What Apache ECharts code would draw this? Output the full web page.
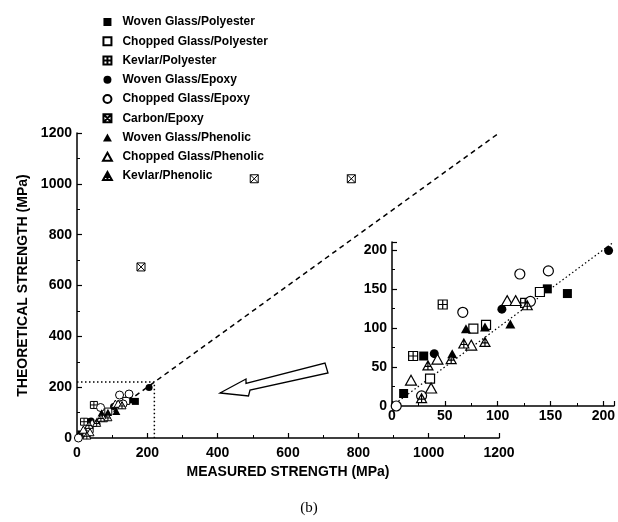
<!DOCTYPE html>
<html>
<head>
<meta charset="utf-8">
<script src="https://cdn.jsdelivr.net/npm/echarts@6/dist/echarts.min.js"></script>
<style>
html,body{margin:0;padding:0;background:#fff;}
#chart{width:618px;height:522px;}
</style>
</head>
<body>
<div id="chart"></div>
<script>
// ---- data (measured, theoretical) in MPa ----
const seriesNames = ['Woven Glass/Polyester','Chopped Glass/Polyester','Kevlar/Polyester','Woven Glass/Epoxy','Chopped Glass/Epoxy','Carbon/Epoxy','Woven Glass/Phenolic','Chopped Glass/Phenolic','Kevlar/Phenolic'];
const wovenGlassPolyester = [[11,16],[30,64],[147,150],[166,144]];
const choppedGlassPolyester = [[36,35],[77,99],[89,104],[140,146]];
const kevlarPolyester = [[20,64],[48,130],[126,132]];
const wovenGlassEpoxy = [[40,67],[104,124],[205,199]];
const choppedGlassEpoxy = [[4,0],[28,13],[67,120],[121,169],[148,173],[131,134]];
const carbonEpoxy = [[182,673],[504,1020],[780,1020]];
const wovenGlassPhenolic = [[57,67],[70,99],[88,101],[112,105]];
const choppedGlassPhenolic = [[18,33],[37,23],[43,60],[75,78],[109,135],[117,135]];
const kevlarPhenolic = [[28,10],[34,52],[56,60],[68,80],[88,82],[128,129]];
const mainTicks = [0,200,400,600,800,1000,1200];
const insetTicks = [0,50,100,150,200];
const unityLine = [[0,0],[1200,1200]];
const insetUnity = [[0,0],[210,210]];
const zoomBox = [[0,220],[220,220],[220,0]];

const allData = [wovenGlassPolyester, choppedGlassPolyester, kevlarPolyester, wovenGlassEpoxy, choppedGlassEpoxy, carbonEpoxy, wovenGlassPhenolic, choppedGlassPhenolic, kevlarPhenolic];

const RECT = 'path://M0,0H10V10H0Z';
const CIRC = 'path://M5,0A5,5,0,1,1,5,10A5,5,0,1,1,5,0Z';
const TRI = 'path://M5,0L10,9H0Z';
const symbols = [
  {symbol:RECT, fill:'#000'},
  {symbol:RECT, fill:'#fff'},
  {symbol:'path://M0,0H10V10H0Z M0,5H10 M5,0V10', fill:'#fff'},
  {symbol:CIRC, fill:'#000'},
  {symbol:CIRC, fill:'#fff'},
  {symbol:'path://M0,0H10V10H0Z M0,0L10,10 M10,0L0,10', fill:'#fff'},
  {symbol:TRI, fill:'#000'},
  {symbol:TRI, fill:'#fff'},
  {symbol:'path://M5,0L10,9H0Z M5,0V9 M1.5,5.5H8.5', fill:'#fff'}
];
const mainSizes = [7,7,7,7,8,8,8,8,8];
const insetSizes = [9,9,9,9,10,9,10,11,10];

const series = [];
allData.forEach((d,i)=>{
  const s = symbols[i];
  series.push({
    name: seriesNames[i], type:'scatter', xAxisIndex:0, yAxisIndex:0,
    data: d, symbol: s.symbol, symbolSize: mainSizes[i], symbolKeepAspect:true,
    itemStyle:{color:s.fill, borderColor:'#000', borderWidth: s.fill==='#000'?0:1, opacity:1},
    z:3, silent:true
  });
  if (seriesNames[i] !== 'Carbon/Epoxy') {
    series.push({
      name: seriesNames[i], type:'scatter', xAxisIndex:1, yAxisIndex:1,
      data: d, symbol: s.symbol, symbolSize: insetSizes[i], symbolKeepAspect:true,
      itemStyle:{color:s.fill, borderColor:'#000', borderWidth: s.fill==='#000'?0:1.2, opacity:1},
      z:3, silent:true
    });
  }
});
series.push({type:'line', xAxisIndex:0, yAxisIndex:0, data:unityLine, symbol:'none', silent:true,
  lineStyle:{color:'#000', width:1.5, type:[5,4]}, z:2});
series.push({type:'line', xAxisIndex:0, yAxisIndex:0, data:zoomBox, symbol:'none', silent:true,
  lineStyle:{color:'#000', width:1.5, type:[1.5,2.5]}, z:2});
series.push({type:'line', xAxisIndex:1, yAxisIndex:1, data:insetUnity, symbol:'none', silent:true,
  lineStyle:{color:'#000', width:1.2, type:[1.5,2.5]}, z:2});

const lab = {color:'#000', fontFamily:'Liberation Sans, Arial, sans-serif', fontWeight:'bold', fontSize:14};
function axis(min,max,interval,ticks,extra){
  return Object.assign({
    type:'value', min:min, max:max, interval:interval,
    axisLine:{show:true, onZero:false, lineStyle:{color:'#000', width:1.5}},
    axisTick:{show:true, inside:true, length:5, lineStyle:{color:'#000', width:1.2}},
    minorTick:{show:true, splitNumber:2, length:3, lineStyle:{color:'#000', width:1}},
    splitLine:{show:false},
    axisLabel:Object.assign({}, lab, {formatter:(v)=> ticks.indexOf(v)>=0 ? String(v) : ''})
  }, extra||{});
}

const option = {
  animation:false,
  backgroundColor:'#fff',
  grid:[
    {left:77, top:133, width:422, height:305},
    {left:392, top:242, width:225, height:164}
  ],
  xAxis:[
    axis(0,1200,200,mainTicks,{gridIndex:0, name:'MEASURED STRENGTH (MPa)', nameLocation:'middle', nameGap:26,
      nameTextStyle:lab, axisLabel:Object.assign({},lab,{margin:8, formatter:(v)=>mainTicks.indexOf(v)>=0?String(v):''})}),
    axis(0,210,50,insetTicks,{gridIndex:1, axisLabel:Object.assign({},lab,{margin:3, formatter:(v)=>insetTicks.indexOf(v)>=0?String(v):''})})
  ],
  yAxis:[
    axis(0,1200,200,mainTicks,{gridIndex:0, name:'THEORETICAL STRENGTH (MPa)', nameLocation:'middle', nameGap:47,
      nameTextStyle:lab, axisLabel:Object.assign({},lab,{margin:5, formatter:(v)=>mainTicks.indexOf(v)>=0?String(v):''})}),
    axis(0,210,50,insetTicks,{gridIndex:1, axisLabel:Object.assign({},lab,{margin:5, formatter:(v)=>insetTicks.indexOf(v)>=0?String(v):''})})
  ],
  legend:{
    orient:'vertical', left:97, top:10, itemWidth:20, itemHeight:8, itemGap:5.25,
    data:seriesNames, selectedMode:false, symbolKeepAspect:true,
    textStyle:{color:'#000', fontFamily:'Liberation Sans, Arial, sans-serif', fontWeight:'bold', fontSize:12, lineHeight:14}
  },
  graphic:[
    {type:'polygon', shape:{points:[[220,393],[246,379],[246,383.5],[325,363],[328,373],[250,390],[248.5,396]]},
     style:{fill:'#fff', stroke:'#000', lineWidth:1.3}, z:5},
    {type:'text', left:'center', top:501, style:{text:'(b)', fill:'#000', font:'15px "Liberation Serif", "Times New Roman", serif'}}
  ],
  series:series
};
const chart = echarts.init(document.getElementById('chart'), null, {renderer:'canvas'});
chart.setOption(option);
</script>
</body>
</html>
